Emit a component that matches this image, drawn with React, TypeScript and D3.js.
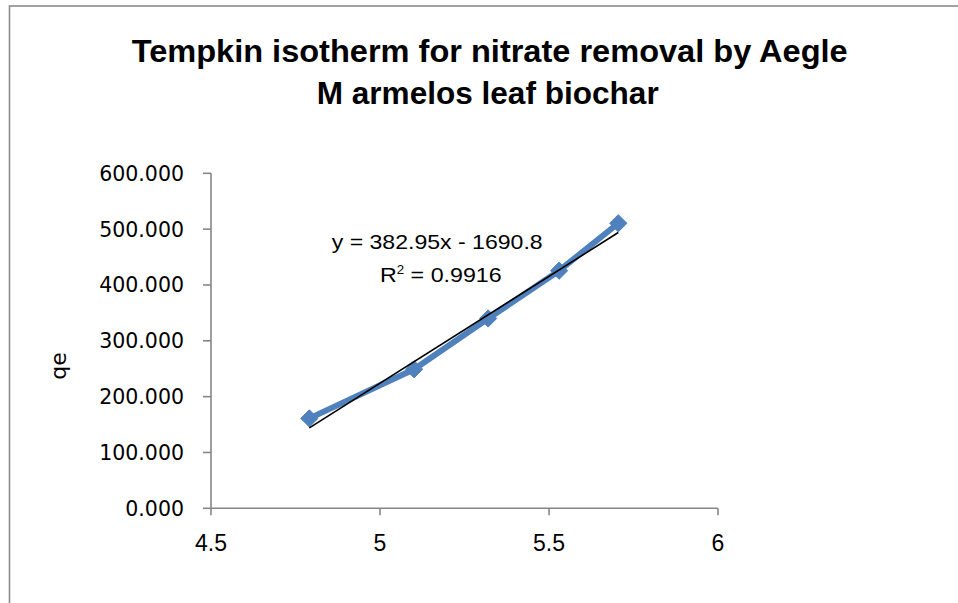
import React from "react";
import * as d3 from "d3";

const xValues: number[] = [4.791, 5.101, 5.32, 5.53, 5.705];
const qeValues: number[] = [161, 249, 340, 425.6, 510.5];
const xTicks: number[] = [4.5, 5, 5.5, 6];
const yTicks: number[] = [0, 100, 200, 300, 400, 500, 600];
const titleLines: string[] = ["Tempkin isotherm for nitrate removal by Aegle", "M armelos leaf biochar"];
const slope = 382.95;
const intercept = -1690.8;
const eqText = "y = 382.95x - 1690.8";
const r2Text = "0.9916";
const yLabel = "qe";

export default function App() {
  const x = d3.scaleLinear().domain([4.5, 6]).range([211, 718]);
  const y = d3.scaleLinear().domain([0, 600]).range([508.3, 173.3]);
  const pts = xValues.map((v, i) => [x(v), y(qeValues[i])] as [number, number]);
  const line = d3.line<[number, number]>()(pts) || "";
  const x0 = xValues[0];
  const x1 = xValues[xValues.length - 1];
  const trend = d3.line<[number, number]>()([
    [x(x0), y(slope * x0 + intercept)],
    [x(x1), y(slope * x1 + intercept)],
  ]) || "";
  const diamond = d3.symbol().type(d3.symbolDiamond2 || d3.symbolSquare).size(190)() || "";
  const axisColor = "#868686";
  return (
    <svg width={958} height={603} style={{ position: "absolute", left: 0, top: 0, background: "#fff" }}>
      <rect x={9.5} y={6} width={1000} height={700} fill="#fff" stroke="#8c8c8c" strokeWidth={1.6} />
      <g fontFamily="'Liberation Sans', Arial, sans-serif" fontWeight="bold" fontSize={31} fill="#000">
        <text x={131.7} y={62} textLength={716} lengthAdjust="spacingAndGlyphs">{titleLines[0]}</text>
        <text x={316.7} y={103.5} textLength={342} lengthAdjust="spacingAndGlyphs">{titleLines[1]}</text>
      </g>
      {/* y axis */}
      <line x1={211} x2={211} y1={y(600)} y2={y(0)} stroke={axisColor} strokeWidth={1.6} />
      {yTicks.map((t) => (
        <g key={t}>
          <line x1={203} x2={211} y1={y(t)} y2={y(t)} stroke={axisColor} strokeWidth={1.6} />
          <text x={184} y={y(t) + 7.5} textAnchor="end" fontFamily="'DejaVu Sans', sans-serif" fontSize={20.5} fill="#000">
            {t.toFixed(3)}
          </text>
        </g>
      ))}
      {/* x axis */}
      <line x1={211} x2={718} y1={y(0)} y2={y(0)} stroke={axisColor} strokeWidth={1.6} />
      {xTicks.map((t) => (
        <g key={t}>
          <line x1={x(t)} x2={x(t)} y1={y(0)} y2={y(0) + 7} stroke={axisColor} strokeWidth={1.6} />
          <text x={x(t)} y={551} textAnchor="middle" fontFamily="'Liberation Sans', Arial, sans-serif" fontSize={23} fill="#000">
            {String(t)}
          </text>
        </g>
      ))}
      <text
        transform="translate(66,366) rotate(-90)"
        textAnchor="middle"
        fontFamily="'DejaVu Sans', sans-serif"
        fontSize={22}
        fill="#000"
      >
        {yLabel}
      </text>
      {/* series */}
      <path d={line} fill="none" stroke="#4F81BD" strokeWidth={6} strokeLinejoin="round" />
      {pts.map((p, i) => (
        <path key={i} d={diamond} transform={`translate(${p[0]},${p[1]})`} fill="#4F81BD" stroke="#4F81BD" strokeWidth={1} />
      ))}
      <path d={trend} fill="none" stroke="#000" strokeWidth={1.6} />
      <g fontFamily="'Liberation Sans', Arial, sans-serif" fontSize={21} fill="#000">
        <text x={331.7} y={249.3} textLength={211} lengthAdjust="spacingAndGlyphs">{eqText}</text>
        <text x={380} y={281.7} textLength={121.7} lengthAdjust="spacingAndGlyphs">
          R<tspan fontSize={12} dy={-8}>2</tspan><tspan dy={8}>{" = " + r2Text}</tspan>
        </text>
      </g>
    </svg>
  );
}
